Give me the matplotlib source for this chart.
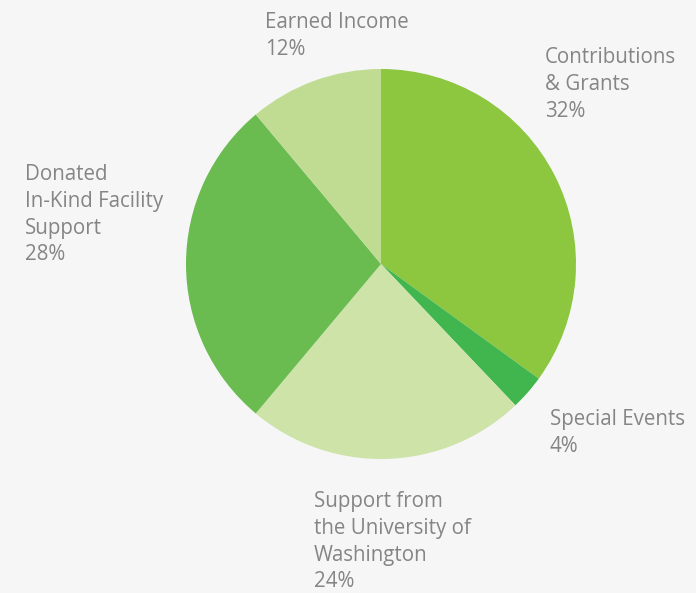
import matplotlib
matplotlib.use("Agg")
import matplotlib.pyplot as plt

# slice shares as drawn (clockwise from 12 o'clock)
categories = ["Contributions\n& Grants", "Special Events", "Support from\nthe University of\nWashington",
              "Donated\nIn-Kind Facility\nSupport", "Earned Income"]
shares = [35.0, 2.9, 23.2, 27.8, 11.1]
pct_labels = ["32%", "4%", "24%", "28%", "12%"]
colors = ["#8dc63f", "#41b54e", "#cde3a8", "#6abb50", "#c0dc93"]

# label anchors (px, left edge / first baseline)
label_pos = [(545, 63), (550, 425), (314, 507), (25, 180), (265, 28)]

W, H = 696, 593
bg = "#f6f6f6"
fig = plt.figure(figsize=(W / 100, H / 100), dpi=100, facecolor=bg)

cx, cy, r = 381, 264, 195
ax = fig.add_axes([(cx - r) / W, (H - cy - r) / H, 2 * r / W, 2 * r / H])
ax.set_facecolor(bg)
ax.pie(shares, colors=colors, startangle=90, counterclock=False,
       wedgeprops=dict(linewidth=0))
ax.set_xlim(-1, 1)
ax.set_ylim(-1, 1)
ax.set_aspect("equal")
ax.axis("off")

step = 26.8
for cat, pct, (x, y) in zip(categories, pct_labels, label_pos):
    lines = cat.split("\n") + [pct]
    for i, line in enumerate(lines):
        fig.text(x / W, 1 - (y + i * step) / H, line, fontsize=14.8,
                 family="Open Sans", color="#858585", ha="left", va="baseline")

fig.savefig("out.png", dpi=100, facecolor=bg)
